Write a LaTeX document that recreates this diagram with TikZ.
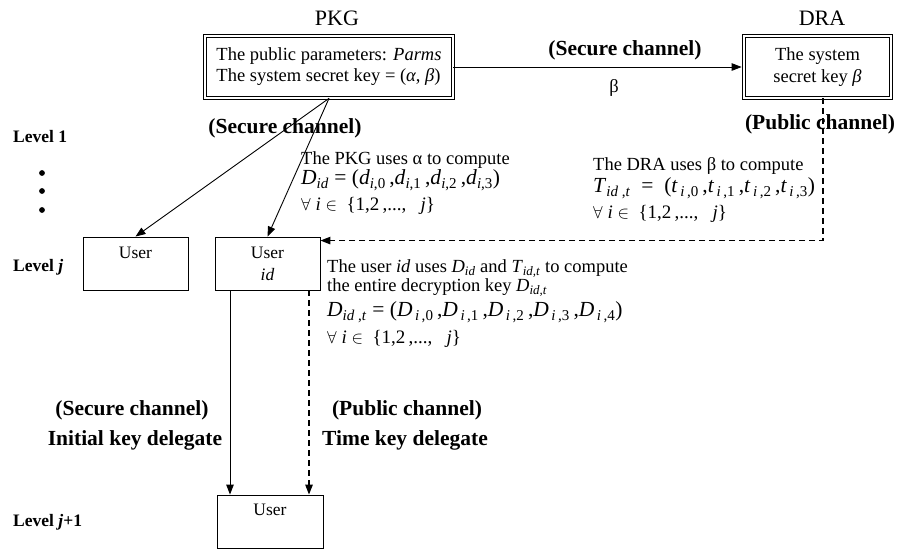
\documentclass[tikz,border=0pt]{standalone}
\usepackage{fontspec}
\setmainfont{Liberation Serif}
\usetikzlibrary{arrows.meta,calc}
\newcommand\vi[1]{\textit{#1}}
\newcommand\sbs[1]{\textsubscript{\raisebox{-0.1ex}{#1}}}
\begin{document}
\begin{tikzpicture}[x=1pt,y=-1pt,
  >={Triangle[length=10pt,width=7.5pt]},
  txt/.style={inner sep=0, font=\fontsize{18.5}{21}\selectfont},
  qtxt/.style={inner sep=0, anchor=west, font=\fontsize{19}{22}\selectfont},
  usertxt/.style={inner sep=0, align=center, font=\fontsize{17.5}{22}\selectfont},
  mtxt/.style={inner sep=0, anchor=west, font=\fontsize{21.5}{24}\selectfont},
  bold/.style={inner sep=0, font=\fontsize{21.5}{24}\selectfont\bfseries},
  lvl/.style={inner sep=0, anchor=west, font=\fontsize{17.5}{20}\selectfont\bfseries},
  head/.style={inner sep=0, font=\fontsize{22}{26}\selectfont},
  dbox/.style={draw, double, double distance=2.2pt, line width=0.7pt, inner sep=0},
  ubox/.style={draw, line width=0.9pt, minimum width=105pt, minimum height=53pt, inner sep=0},
  secure/.style={draw, line width=0.9pt, ->},
  public/.style={draw, line width=1.2pt, dash pattern=on 6pt off 4pt, ->}]
\useasboundingbox (0,0) rectangle (899,550);

% key generation centre and revocation authority
\node[head] (pkgt) at (337,18) {PKG};
\node[dbox, minimum width=248pt, minimum height=62pt, align=left, font=\fontsize{18.5}{21}\selectfont]
  (pkg) at (329,67) {The public parameters: \vi{Parms}\\The system secret key = (\vi{α}, \vi{β})};
\node[head] (drat) at (822,18) {DRA};
\node[dbox, minimum width=147.4pt, minimum height=62pt, align=center, font=\fontsize{18.5}{22}\selectfont]
  (dra) at (817.5,67) {The system\\secret key \vi{β}};

\draw[secure, shorten >=1.8pt] (pkg.east) -- (dra.west);
\node[bold] (sc1) at (625,50) {(Secure channel)};
\node[txt] (b1) at (614,88) {β};
\node[bold] (pc1) at (820,124) {(Public channel)};

% level labels
\node[lvl] (l1) at (13,137) {Level 1};
\node[lvl] (lj) at (13,267) {Level \vi{j}};
\node[lvl] (lj1) at (13,522) {Level \vi{j}+1};
\fill (42,173) circle (2.9) (42,191) circle (2.9) (42,210) circle (2.9);

% users
\node[ubox] (u1) at (135.5,263.5) {};
\node[usertxt] (u1t) at (135.5,253) {User};
\node[ubox] (uid) at (267.5,263.5) {};
\node[usertxt] (uidt) at (267.5,264) {User\\\vi{id}};
\node[ubox, minimum width=106pt] (ub) at (270,521.5) {};
\node[usertxt] (ubt) at (270,510) {User};

% initial keys from the PKG
\node[bold] (sc2) at (285,128) {(Secure channel)};
\draw[secure] (pkg.south) -- (u1.north);
\draw[secure] (pkg.south) -- (uid.north);
\node[txt, anchor=west] (pk1) at (301,160) {The PKG uses α to compute};
\node[mtxt] (pk2) at (301,180) {\vi{D}\sbs{\vi{id}} = (\vi{d}\sbs{\vi{i},0}\,,\vi{d}\sbs{\vi{i},1}\,,\vi{d}\sbs{\vi{i},2}\,,\vi{d}\sbs{\vi{i},3})};
\node[qtxt] (pk3) at (301,206) {$\forall$ \vi{i} $\in$ \ \{1,2\,,..., \ \ \vi{j}\}};

% time keys from the DRA
\coordinate (dstart) at ([xshift=5.5pt]dra.south);
\coordinate (dend) at ([yshift=-4pt]uid.north east);
\draw[public] (dstart) |- (dend);
\node[txt, anchor=west] (dr1) at (593,166) {The DRA uses β to compute};
\node[mtxt] (dr2) at (593,188) {\vi{T}\sbs{\vi{id} ,\vi{t}} \ = \ (\vi{t}\sbs{\,\vi{i}\,,0}\,,\vi{t}\sbs{\,\vi{i}\,,1}\,,\vi{t}\sbs{\,\vi{i}\,,2}\,,\vi{t}\sbs{\,\vi{i}\,,3})};
\node[qtxt] (dr3) at (593,214) {$\forall$ \vi{i} $\in$ \ \{1,2\,,..., \ \ \vi{j}\}};

% decryption key of the user
\node[txt, anchor=west] (ud1) at (327,269) {The user \vi{id} uses \vi{D}\textsubscript{\vi{id}} and \vi{T}\textsubscript{\vi{id,t}} to compute};
\node[txt, anchor=west] (ud2) at (327,288) {the entire decryption key \vi{D}\textsubscript{\vi{id,t}}};
\node[mtxt] (ud3) at (327,312) {\vi{D}\sbs{\vi{id} ,\vi{t}} = (\vi{D}\sbs{\,\vi{i}\,,0}\,,\vi{D}\sbs{\,\vi{i}\,,1}\,,\vi{D}\sbs{\,\vi{i}\,,2}\,,\vi{D}\sbs{\,\vi{i}\,,3}\,,\vi{D}\sbs{\,\vi{i}\,,4})};
\node[qtxt] (ud4) at (327,339) {$\forall$ \vi{i} $\in$ \ \{1,2\,,..., \ \ \vi{j}\}};

% delegation to the next level
\draw[secure] ([xshift=-37.5pt]uid.south) -- ([xshift=-37.5pt]uid.south |- ub.north);
\draw[public] ([xshift=41.5pt]uid.south) -- ([xshift=41.5pt]uid.south |- ub.north);
\node[bold] (sc3) at (132,410) {(Secure channel)};
\node[bold] (ik) at (135,440) {Initial key delegate};
\node[bold] (pc3) at (407,410) {(Public channel)};
\node[bold] (tk) at (405,440) {Time key delegate};
\end{tikzpicture}
\end{document}
